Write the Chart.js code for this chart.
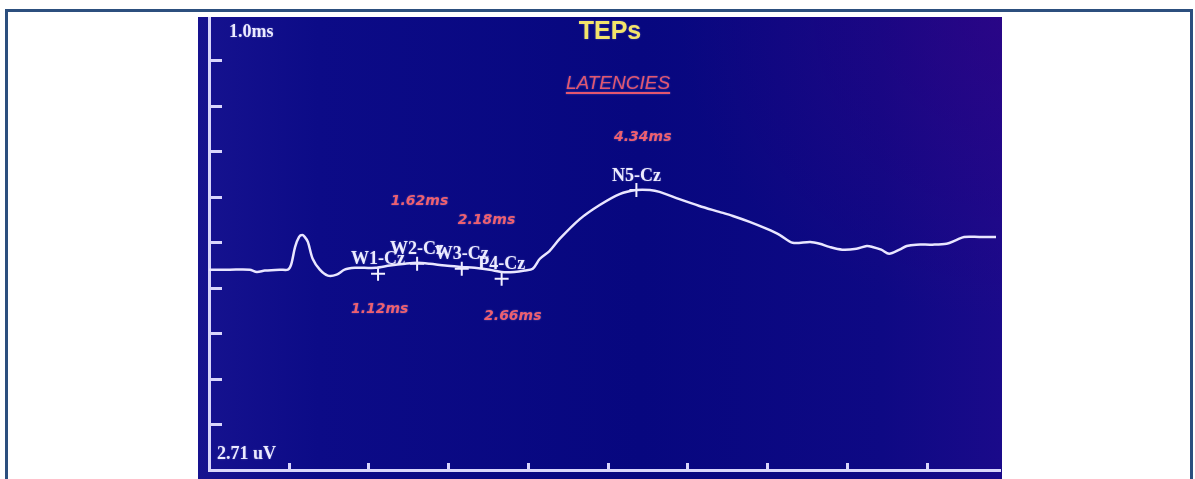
<!DOCTYPE html>
<html lang="en">
<head>
<meta charset="UTF-8">
<title>TEPs - Latencies</title>
<script src="https://cdn.jsdelivr.net/npm/chart.js"></script>
<style>
  html, body { margin: 0; padding: 0; background: #fff; width: 1195px; height: 479px; overflow: hidden; }
  .frame {
    position: absolute; left: 5px; top: 9px; width: 1182px; height: 490px;
    border: 3px solid #2c4f7e; border-bottom: none;
  }
  .screen {
    position: absolute; left: 198px; top: 17px; width: 804px; height: 462px;
    background:
      radial-gradient(ellipse 40% 65% at 100% 0%, rgba(60, 0, 130, 0.45), rgba(60, 0, 130, 0) 100%),
      linear-gradient(90deg, #16128f 0%, #0c0b87 15%, #07077f 55%, #0e0984 85%, #1a0a8a 100%);
  }
  canvas { display: block; }
</style>
</head>
<body>
<div class="frame"></div>
<div class="screen"><canvas id="tep" width="804" height="462"></canvas></div>
<script>
// trace: time (ms, 1.0 ms/div) and amplitude (div)
const traceX = [0, 0.26, 0.51, 0.6, 0.7, 0.89, 0.99, 1.03, 1.08, 1.13, 1.17, 1.2, 1.24, 1.3, 1.39, 1.49, 1.6, 1.7,
  1.83, 1.95, 2.09, 2.27, 2.46, 2.61, 2.77, 2.96, 3.17, 3.33, 3.52, 3.67, 3.83, 3.96, 4.06, 4.15, 4.27, 4.4,
  4.65, 4.9, 5.15, 5.36, 5.53, 5.65, 5.9, 6.15, 6.4, 6.57, 6.78, 6.99, 7.16, 7.32, 7.54, 7.66, 7.78, 7.94,
  8.12, 8.25, 8.32, 8.43, 8.53, 8.66, 8.75, 8.87, 9.07, 9.25, 9.37, 9.47, 9.66, 9.87];
const traceY = [4.4, 4.4, 4.4, 4.35, 4.38, 4.4, 4.4, 4.51, 4.9, 5.12, 5.16, 5.12, 5.01, 4.64, 4.4, 4.27, 4.29, 4.4,
  4.44, 4.44, 4.44, 4.49, 4.53, 4.55, 4.53, 4.49, 4.46, 4.44, 4.4, 4.35, 4.35, 4.38, 4.42, 4.64, 4.81, 5.08,
  5.51, 5.82, 6.06, 6.15, 6.15, 6.11, 5.95, 5.8, 5.67, 5.58, 5.45, 5.3, 5.16, 4.99, 5.01, 4.97, 4.9, 4.84,
  4.86, 4.92, 4.9, 4.84, 4.75, 4.84, 4.92, 4.95, 4.95, 4.97, 5.05, 5.12, 5.12, 5.12];

// cursor marks on the peaks
const peakNames = ['W1-Cz', 'W2-Cz', 'W3-Cz', 'P4-Cz', 'N5-Cz'];
const peakX = [2.12, 2.61, 3.17, 3.67, 5.36];
const peakY = [4.31, 4.53, 4.42, 4.2, 6.15];

// latency readouts and where they sit on the screen
const latencyText = ['1.12ms', '1.62ms', '2.18ms', '2.66ms', '4.34ms'];
const latencyX = [2.14, 2.64, 3.48, 3.81, 5.44];
const latencyY = [3.52, 5.89, 5.49, 3.37, 7.31];

const axisColor = '#d9d6fb';
const labelWhite = '#ecebff';

const screenText = {
  id: 'screenText',
  afterDatasetsDraw(chart) {
    const { ctx, chartArea: a, scales: { x, y } } = chart;
    ctx.save();

    // division marks, drawn inward like on the instrument
    ctx.strokeStyle = axisColor;
    ctx.lineWidth = 3;
    y.ticks.forEach(t => {
      if (t.value <= 0 || t.value >= y.max) return;
      const py = Math.round(y.getPixelForValue(t.value)) + 0.5;
      ctx.beginPath(); ctx.moveTo(a.left, py); ctx.lineTo(a.left + 13, py); ctx.stroke();
    });
    x.ticks.forEach(t => {
      if (t.value <= 0 || t.value >= x.max) return;
      const px = Math.round(x.getPixelForValue(t.value)) + 0.5;
      ctx.beginPath(); ctx.moveTo(px, a.bottom); ctx.lineTo(px, a.bottom - 7); ctx.stroke();
    });

    ctx.textBaseline = 'middle';
    ctx.shadowColor = 'rgba(220,220,255,0.35)';
    ctx.shadowBlur = 2;

    // scale readouts
    ctx.fillStyle = labelWhite;
    ctx.font = 'bold 18px "Liberation Serif"';
    ctx.textAlign = 'left';
    ctx.fillText('1.0ms', a.left + 20, a.top + 15);
    ctx.fillText('2.71 uV', a.left + 8, a.bottom - 16);

    // title
    ctx.fillStyle = '#f3e46a';
    ctx.font = 'bold 25px "Liberation Sans"';
    ctx.textAlign = 'center';
    ctx.fillText('TEPs', a.left + 401, a.top + 15);

    // LATENCIES heading, underlined
    ctx.fillStyle = '#e4566f';
    ctx.strokeStyle = '#e4566f';
    ctx.font = 'italic 19px "Liberation Sans"';
    ctx.fillText('LATENCIES', a.left + 409, a.top + 67);
    const w = ctx.measureText('LATENCIES').width;
    ctx.lineWidth = 2;
    ctx.beginPath();
    ctx.moveTo(a.left + 409 - w / 2, a.top + 76);
    ctx.lineTo(a.left + 409 + w / 2, a.top + 76);
    ctx.stroke();

    // latency values
    ctx.fillStyle = '#ef5f6f';
    ctx.font = 'italic bold 14px "DejaVu Sans"';
    latencyText.forEach((s, i) => {
      ctx.fillText(s, x.getPixelForValue(latencyX[i]), y.getPixelForValue(latencyY[i]));
    });

    // peak names above the cursors
    ctx.fillStyle = labelWhite;
    ctx.font = 'bold 18px "Liberation Serif"';
    peakNames.forEach((s, i) => {
      ctx.fillText(s, x.getPixelForValue(peakX[i]), y.getPixelForValue(peakY[i]) - 14);
    });

    ctx.restore();
  }
};

new Chart(document.getElementById('tep'), {
  type: 'line',
  data: {
    datasets: [{
      label: 'Cz',
      data: traceX.map((v, i) => ({ x: v, y: traceY[i] })),
      borderColor: '#e9e6ff',
      borderWidth: 2.5,
      pointRadius: 0,
      tension: 0.3
    }, {
      label: 'peaks',
      data: peakX.map((v, i) => ({ x: v, y: peakY[i] })),
      showLine: false,
      pointStyle: 'cross',
      pointRadius: 7,
      pointBorderWidth: 2,
      pointBorderColor: '#f2f0ff',
      pointBackgroundColor: '#f2f0ff'
    }]
  },
  options: {
    responsive: false,
    animation: false,
    layout: { autoPadding: false, padding: { left: 11, right: 2, top: 0, bottom: 9 } },
    plugins: { legend: { display: false }, tooltip: { enabled: false } },
    scales: {
      x: {
        type: 'linear', min: 0, max: 9.92,
        ticks: { display: false, stepSize: 1 },
        grid: { display: false, drawTicks: false },
        border: { display: true, color: axisColor, width: 3 }
      },
      y: {
        type: 'linear', min: 0, max: 9.95,
        ticks: { display: false, stepSize: 1 },
        grid: { display: false, drawTicks: false },
        border: { display: true, color: axisColor, width: 3 }
      }
    }
  },
  plugins: [screenText]
});
</script>
</body>
</html>
